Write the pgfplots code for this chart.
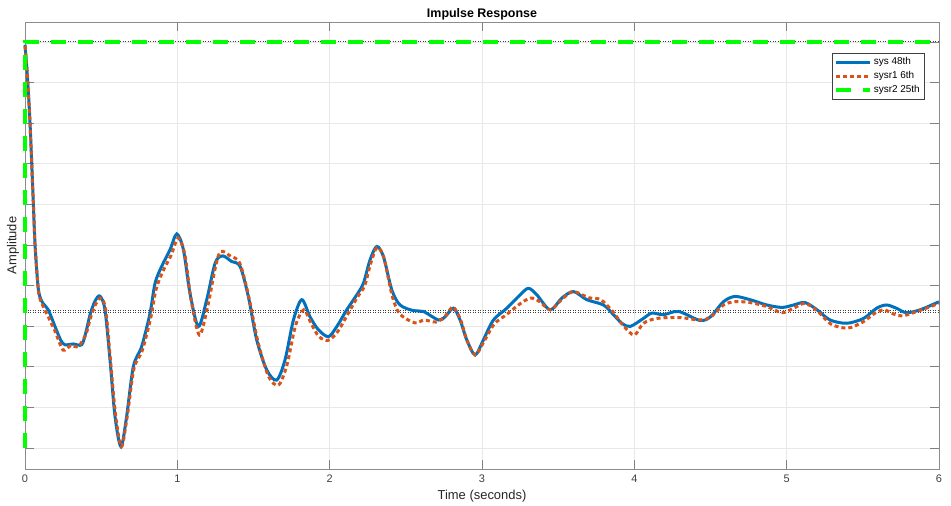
\documentclass[border=0pt]{standalone}
\usepackage{fontspec}
\setmainfont{Liberation Sans}
\usepackage{pgfplots}
\pgfplotsset{compat=1.18}
\definecolor{mblue}{HTML}{0072BD}
\definecolor{morange}{HTML}{D95319}
\definecolor{mgreen}{HTML}{00FF00}

\pgfplotstableread{
t v
0 9.93
0.015 9.2
0.033 8.0
0.055 6.0
0.066 5.0
0.085 4.0
0.098 3.72
0.12 3.55
0.153 3.40
0.197 2.99
0.235 2.65
0.263 2.54
0.317 2.56
0.372 2.54
0.40 2.85
0.427 3.28
0.46 3.62
0.492 3.74
0.525 3.40
0.558 2.17
0.591 0.77
0.630 0.03
0.667 0.77
0.711 2.0
0.766 2.5
0.821 3.32
0.854 4.06
0.897 4.47
0.952 4.88
0.996 5.27
1.04 4.88
1.083 3.81
1.138 2.99
1.193 3.65
1.248 4.55
1.296 4.73
1.357 4.59
1.412 4.47
1.466 3.73
1.521 2.66
1.587 1.92
1.652 1.67
1.707 2.17
1.762 3.15
1.817 3.65
1.871 3.23
1.926 2.91
1.992 2.74
2.047 2.99
2.112 3.40
2.178 3.77
2.222 4.06
2.265 4.63
2.309 4.96
2.353 4.71
2.408 3.89
2.462 3.52
2.550 3.38
2.615 3.36
2.714 3.15
2.758 3.23
2.812 3.44
2.856 3.15
2.900 2.66
2.955 2.29
3.009 2.66
3.075 3.15
3.163 3.44
3.250 3.77
3.305 3.93
3.360 3.77
3.447 3.40
3.524 3.69
3.600 3.85
3.688 3.65
3.797 3.52
3.863 3.28
3.918 3.07
3.972 2.99
4.06 3.19
4.115 3.32
4.19 3.28
4.29 3.36
4.43 3.14
4.50 3.23
4.585 3.60
4.66 3.73
4.76 3.65
4.87 3.52
4.97 3.46
5.045 3.52
5.12 3.58
5.20 3.40
5.285 3.15
5.395 3.07
5.505 3.19
5.59 3.44
5.655 3.52
5.72 3.44
5.785 3.33
5.875 3.40
6.0 3.60
}\sysdata

\pgfplotstableread{
t v
0 9.90
0.015 9.2
0.033 8.0
0.055 6.0
0.066 5.0
0.085 4.0
0.10 3.65
0.15 3.25
0.20 2.85
0.25 2.41
0.30 2.52
0.35 2.50
0.40 2.80
0.43 3.2
0.465 3.55
0.50 3.69
0.53 3.40
0.56 2.2
0.595 0.8
0.633 0.03
0.67 0.75
0.715 1.95
0.77 2.4
0.825 3.2
0.86 3.9
0.905 4.35
0.96 4.75
1.005 5.17
1.05 4.75
1.09 3.65
1.145 2.78
1.20 3.5
1.25 4.45
1.285 4.84
1.35 4.72
1.41 4.55
1.47 3.7
1.53 2.6
1.60 1.75
1.665 1.55
1.72 2.05
1.775 3.0
1.83 3.40
1.88 3.05
1.93 2.74
1.99 2.65
2.05 2.85
2.12 3.3
2.18 3.7
2.23 4.0
2.27 4.55
2.31 4.93
2.355 4.7
2.41 3.75
2.46 3.3
2.56 3.08
2.62 3.15
2.70 3.10
2.76 3.25
2.81 3.47
2.86 3.15
2.90 2.66
2.955 2.29
3.01 2.6
3.08 3.05
3.16 3.28
3.25 3.55
3.32 3.69
3.38 3.6
3.45 3.40
3.53 3.68
3.60 3.85
3.70 3.70
3.78 3.65
3.86 3.35
3.93 3.0
4.00 2.78
4.06 3.07
4.15 3.19
4.30 3.21
4.43 3.15
4.50 3.22
4.585 3.52
4.66 3.60
4.76 3.58
4.87 3.48
4.97 3.33
5.05 3.45
5.12 3.56
5.20 3.38
5.29 3.05
5.40 2.95
5.50 3.10
5.58 3.32
5.64 3.40
5.70 3.30
5.76 3.25
5.87 3.38
6.0 3.56
}\sysrone

\pgfplotstableread{
t v
0 0
0 10
6 10
}\sysrtwo

\begin{document}
\begin{tikzpicture}
\begin{axis}[
  scale only axis,
  width=914bp, height=447bp,
  clip=false,
  xmin=0, xmax=6, ymin=-0.52, ymax=10.49,
  xtick={0,1,2,3,4,5,6}, ytick={0,1,2,3,4,5,6,7,8,9,10}, yticklabels={},
  grid=major, major grid style={draw=black!9, line width=0.6bp},
  tick align=inside, major tick length=9bp,
  tick style={draw=black!50, line width=0.6bp},
  axis line style={draw=black!45, line width=0.6bp},
  /pgf/number format/assume math mode=true,
  xticklabel style={font=\fontsize{11}{13}\selectfont, text=black!75, yshift=-2bp},
  title={Impulse Response},
  title style={font=\bfseries\fontsize{12.5}{14}\selectfont, at={(axis description cs:0.5,1)}, anchor=center, yshift=2bp},
  xlabel={Time (seconds)},
  xlabel style={font=\fontsize{13}{15}\selectfont, at={(axis description cs:0.5,0)}, anchor=center, yshift=-27bp, text=black!85},
  ylabel={Amplitude},
  ylabel style={font=\fontsize{13}{15}\selectfont, at={(axis description cs:-0.0131,0.5)}, anchor=center, text=black!85},
  legend style={at={(0.9836,0.9306)}, anchor=north east, draw=black!75, line width=0.5bp,
    font=\fontsize{10}{11}\selectfont, inner xsep=2bp, inner ysep=2.5bp, row sep=1.2bp, cells={anchor=west}},
  legend image code/.code={\draw[#1] (0bp,0bp) -- (34bp,0bp);},
]
\addplot[forget plot, black!75, line width=0.8bp, dash pattern=on 1.2bp off 1.3bp] coordinates {(0,3.38) (6,3.38)};
\addplot[forget plot, black!75, line width=0.8bp, dash pattern=on 1.2bp off 1.3bp] coordinates {(0,3.33) (6,3.33)};
\addplot[forget plot, black!75, line width=0.8bp, dash pattern=on 1.2bp off 1.3bp] coordinates {(0,10) (6,10)};
\addplot[mblue, line width=3bp, smooth, tension=0.5] table[x=t,y=v] {\sysdata};
\addlegendentry{sys 48th}
\addplot[morange, line width=3bp, dash pattern=on 4bp off 3bp, smooth, tension=0.5] table[x=t,y=v] {\sysrone};
\addlegendentry{sysr1 6th}
\addplot[mgreen, line width=4bp, dash pattern=on 15bp off 12bp] table[x=t,y=v] {\sysrtwo};
\addlegendentry{sysr2 25th}
\coordinate (bl) at (rel axis cs:0,0);
\coordinate (tr) at (rel axis cs:1,1);
\end{axis}
\pgfresetboundingbox
\path[use as bounding box] ([xshift=-25bp,yshift=-36bp]bl) rectangle ([xshift=12bp,yshift=22bp]tr);
\end{tikzpicture}
\end{document}
